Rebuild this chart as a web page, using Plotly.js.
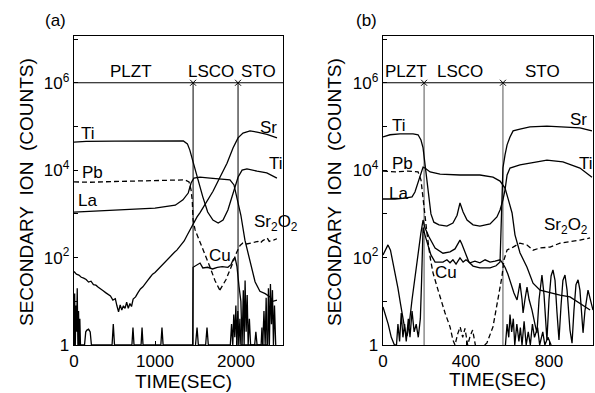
<!DOCTYPE html>
<html>
<head>
<meta charset="utf-8">
<script src="https://cdn.plot.ly/plotly-3.0.1.min.js"></script>
<style>html,body{margin:0;padding:0;background:#fff;}#chart{width:595px;height:393px;}</style>
</head>
<body>
<div id="chart"></div>
<script>
// ---------- Panel (a) data: time (s) and secondary ion counts ----------
var aTiT = [0, 150, 500, 900, 1200, 1350, 1400, 1430, 1480, 1530, 1590, 1650, 1715, 1780, 1840, 1900, 1965, 2025, 2075, 2135, 2260, 2380, 2505];
var aTiV = [44000, 45500, 46000, 47000, 47500, 46500, 40000, 28800, 13200, 6000, 2450, 1100, 720, 620, 720, 1230, 3000, 6900, 10000, 10700, 9500, 8700, 6600];

var aPbT = [0, 200, 500, 800, 1100, 1370, 1420, 1445, 1460, 1470, 1495, 1520, 1555, 1620, 1680, 1740, 1800];
var aPbV = [5400, 5300, 5500, 5600, 5700, 6000, 5400, 3550, 2000, 720, 430, 330, 250, 126, 60, 30, 18];

var aLaT = [0, 300, 700, 1000, 1250, 1345, 1410, 1445, 1480, 1555, 1680, 1800, 1925, 1975, 2010, 2060, 2110, 2175, 2235, 2295, 2360, 2420, 2455, 2505];
var aLaV = [1100, 1175, 1260, 1350, 1580, 2100, 3000, 5100, 6600, 6900, 6600, 6300, 6000, 4600, 2450, 930, 250, 80, 28, 17, 15, 12.6, 10, 10.7];

var aSrT = [0, 30, 60, 90, 120, 150, 180, 210, 240, 270, 300, 330, 360, 390, 420, 450, 480, 510, 530, 550, 570, 590, 610, 630, 650, 670, 690, 710, 730, 760, 790, 820, 850, 880, 910, 940, 970, 1000, 1030, 1060, 1090, 1120, 1150, 1180, 1210, 1240, 1270, 1300, 1330, 1360, 1395, 1432, 1470, 1519, 1556, 1617, 1716, 1802, 1889, 1963, 2025, 2086, 2173, 2260, 2383, 2506];
var aSrV = [47.9, 41.7, 39.8, 35.5, 33.9, 31.6, 27.5, 28.8, 24.0, 23.4, 20.9, 19.5, 17.4, 15.8, 14.5, 13.2, 10.7, 11.5, 7.9, 5.75, 8.3, 6.3, 7.9, 6.9, 9.5, 6.9, 8.9, 7.6, 11.2, 12.6, 15.8, 19.1, 21.4, 26.3, 30.2, 35.5, 41.7, 45.7, 52.5, 60.3, 69.2, 75.9, 87.1, 100, 115, 132, 148, 174, 200, 240, 320, 430, 600, 851, 1070, 1660, 3300, 6918, 14450, 32360, 54950, 70790, 79430, 74130, 66070, 54950];

var aSr2O2T = [1800, 1875, 1950, 2010, 2050, 2085, 2130, 2170, 2230, 2270, 2300, 2330, 2360, 2385, 2410, 2440, 2470, 2505];
var aSr2O2V = [18, 31, 68, 135, 190, 215, 205, 210, 225, 235, 215, 245, 265, 280, 235, 240, 255, 270];

var aCuT = [0, 8, 16, 24, 32, 40, 48, 56, 64, 72, 80, 130, 145, 160, 180, 200, 215, 470, 485, 500, 715, 728, 741, 828, 840, 852, 1072, 1086, 1100, 1465, 1470, 1500, 1556, 1590, 1650, 1710, 1770, 1830, 1900, 1940, 1965, 1988, 2012, 2037, 2060, 2075, 2090, 2100, 2112, 2125, 2138, 2150, 2165, 2180, 2310, 2320, 2330, 2390, 2400, 2412, 2425, 2438, 2450, 2462, 2475, 2490];
var aCuV = [1, 15, 1, 8, 2, 20, 1, 6, 1, 4, 1, 1, 2, 2.2, 2.3, 2, 1, 1, 3, 1, 1, 2.5, 1, 1, 2.5, 1, 1, 2.5, 1, 1, 60, 65, 75, 58, 60, 55, 60, 62, 60, 70, 90, 100, 62, 22, 10, 1, 18, 1, 30, 2, 14, 1, 4, 1, 1, 2.5, 1, 1, 20, 1, 25, 3, 18, 1, 8, 1];

var aBgT = [1500, 1519, 1535, 1625, 1642, 1658, 1930, 1945, 1960, 1972, 1985, 1998, 2010, 2022, 2035, 2048, 2060, 2230, 2245, 2260, 2330, 2345, 2360, 2372, 2384];
var aBgV = [1, 2.5, 1, 1, 2.5, 1, 1, 3, 1, 5, 1.5, 8, 1, 6, 1, 4, 1, 1, 2, 1, 1, 6, 1, 12, 1];

var aBounds = [1470, 2025];

// ---------- Panel (b) data ----------
var bTiT = [0, 34, 82, 145, 169, 183, 193, 202, 212, 222, 231, 245, 270, 308, 337, 357, 371, 386, 405, 434, 467, 516, 549, 564, 578, 588, 598, 612, 660, 708, 790, 867, 949, 1007];
var bTiV = [57500, 64600, 67600, 67600, 64600, 49000, 32400, 14450, 6030, 2090, 1000, 646, 562, 525, 617, 933, 1780, 1100, 724, 562, 525, 589, 851, 1230, 2090, 3550, 7760, 11200, 13200, 14450, 17000, 15500, 11200, 6900];

var bPbT = [0, 60, 120, 169, 183, 193, 202, 212, 227, 241, 265, 284, 299, 323, 337, 347, 360, 372, 384, 395, 408, 420, 432, 445];
var bPbV = [9550, 9120, 9550, 9120, 6030, 2090, 933, 363, 102, 44.7, 18.2, 9.1, 5.4, 2.6, 1.3, 1, 1.8, 2.6, 1.5, 2.4, 1, 1.6, 2.2, 1];

var bLaT = [0, 58, 106, 140, 154, 169, 183, 193, 202, 227, 275, 371, 467, 530, 564, 588, 602, 622, 636, 660, 694, 723, 757, 805, 853, 901, 949, 998];
var bLaV = [2190, 2190, 2290, 2455, 3160, 5370, 9120, 11750, 11200, 9120, 8130, 7760, 7760, 6920, 5620, 3890, 2290, 1050, 331, 129, 60, 26, 18, 15.5, 13.8, 12.6, 9.1, 6.3];

var bSrT = [0, 12, 24, 36, 48, 60, 72, 84, 96, 106, 116, 126, 140, 150, 162, 172, 182, 193, 202, 222, 251, 289, 323, 347, 362, 371, 380, 395, 414, 434, 467, 516, 545, 564, 568, 573, 578, 588, 598, 612, 627, 660, 708, 790, 867, 949, 1007];
var bSrV = [115, 148, 195, 148, 79, 40, 20, 9, 4.2, 2.2, 1.6, 2.9, 11, 26, 79, 166, 347, 724, 479, 295, 166, 126, 135, 158, 204, 251, 204, 135, 79, 64, 58, 58, 65, 79, 427, 3548, 11220, 22390, 38020, 57540, 79430, 87100, 97720, 102300, 97720, 93330, 79430];

var bCuT = [0, 12, 25, 40, 55, 65, 72, 80, 88, 96, 104, 112, 122, 130, 140, 150, 160, 170, 180, 186, 190, 193, 202, 217, 231, 251, 289, 308, 323, 337, 352, 371, 386, 400, 419, 443, 467, 492, 516, 540, 564, 573, 588, 602, 617, 631, 646, 660, 670, 675, 684, 694, 704, 718, 733, 742, 752, 766, 776, 790, 800, 810, 819, 829, 838, 848, 858, 867, 877, 887, 901, 911, 920, 930, 940, 949, 964, 973, 988, 998, 1012];
var bCuV = [7.4, 5, 3, 1.5, 1, 1, 3, 1.2, 5.4, 1.5, 3, 1.2, 4, 1.5, 6, 2, 3, 1.5, 4, 30, 200, 490, 331, 195, 115, 79, 79, 89, 76, 89, 71, 98, 79, 89, 76, 83, 76, 89, 79, 83, 89, 79, 60, 41.7, 25, 15.5, 10.7, 26, 11, 5.4, 11, 21, 11, 6.3, 2.9, 1.9, 11, 40, 14, 1.3, 11, 38, 52, 30, 6, 1.3, 8, 30, 40, 18, 2.2, 1.1, 6, 24, 31, 18, 1.9, 6, 18, 11, 6.3];

var bSr2O2T = [490, 501, 530, 554, 573, 583, 598, 627, 660, 694, 723, 757, 805, 853, 901, 949, 998];
var bSr2O2V = [1, 1.12, 2.6, 10.7, 36, 89, 149, 174, 214, 194, 148, 166, 174, 214, 229, 251, 282];

var bBgT = [590, 598, 606, 612, 620, 628, 635, 645, 655, 662, 670, 680, 690, 700, 710, 720, 730, 745, 755, 770, 780, 795, 810];
var bBgV = [1, 3, 1.5, 5, 2, 4, 1, 3, 1.2, 2.5, 1, 3.5, 1, 2, 1, 3, 1.5, 2.5, 1, 2, 1, 1.5, 1];

var bBounds = [198, 578];

// axis ranges and tick labels
var aXRange = [0, 2580];
var bXRange = [0, 1012];
var layerLevel = 1e6;
var baseLevel = 1;
var aXTicks = [0, 1000, 2000];
var bXTicks = [0, 400, 800];
var yTickVals = [1, 100, 1e4, 1e6];
var yTickText = ['1', '10<sup>2</sup>', '10<sup>4</sup>', '10<sup>6</sup>'];
var yMinorVals = [10, 1e3, 1e5, 1e7];

var FONT = 'Liberation Sans, Arial, Helvetica, sans-serif';
var DASH = '5px,3px';

function ln(x, y, xa, ya, dash, color, width) {
  return {x: x, y: y, xaxis: xa, yaxis: ya, type: 'scatter', mode: 'lines',
    line: {color: color || '#000', width: width || 1.3, dash: dash || 'solid'},
    hoverinfo: 'skip', showlegend: false};
}

var traces = [];
// panel a
traces.push(ln([aXRange[0], aXRange[1]], [layerLevel, layerLevel], 'x', 'y', null, '#000', 1.2));
aBounds.forEach(function (b) { traces.push(ln([b, b], [baseLevel, layerLevel], 'x', 'y', null, '#000', 1)); });
traces.push({x: aBounds, y: [layerLevel, layerLevel], xaxis: 'x', yaxis: 'y', type: 'scatter', mode: 'markers',
  marker: {symbol: 'x-thin', size: 6, line: {color: '#000', width: 1}}, hoverinfo: 'skip', showlegend: false});
traces.push(ln(aTiT, aTiV, 'x', 'y'));
traces.push(ln(aPbT, aPbV, 'x', 'y', DASH));
traces.push(ln(aLaT, aLaV, 'x', 'y'));
traces.push(ln(aSrT, aSrV, 'x', 'y'));
traces.push(ln(aSr2O2T, aSr2O2V, 'x', 'y', DASH));
traces.push(ln(aCuT, aCuV, 'x', 'y'));
traces.push(ln(aBgT, aBgV, 'x', 'y'));
// panel b
traces.push(ln([bXRange[0], bXRange[1]], [layerLevel, layerLevel], 'x2', 'y2', null, '#000', 1.2));
bBounds.forEach(function (b) { traces.push(ln([b, b], [baseLevel, layerLevel], 'x2', 'y2', null, '#555', 1)); });
traces.push({x: bBounds, y: [layerLevel, layerLevel], xaxis: 'x2', yaxis: 'y2', type: 'scatter', mode: 'markers',
  marker: {symbol: 'x-thin', size: 6, line: {color: '#000', width: 1}}, hoverinfo: 'skip', showlegend: false});
traces.push(ln(bTiT, bTiV, 'x2', 'y2'));
traces.push(ln(bPbT, bPbV, 'x2', 'y2', DASH));
traces.push(ln(bLaT, bLaV, 'x2', 'y2'));
traces.push(ln(bSrT, bSrV, 'x2', 'y2'));
traces.push(ln(bSr2O2T, bSr2O2V, 'x2', 'y2', DASH));
traces.push(ln(bCuT, bCuV, 'x2', 'y2'));
traces.push(ln(bBgT, bBgV, 'x2', 'y2'));

var W = 595, H = 393;
function txt(text, px, py, size, angle) {
  return {text: text, x: px / W, y: 1 - py / H, xref: 'paper', yref: 'paper', showarrow: false,
    xanchor: 'center', yanchor: 'middle', textangle: angle || 0,
    font: {family: FONT, size: size || 17, color: '#000'}};
}
var sp = '\u00a0\u00a0';
var annotations = [
  txt('(a)', 55, 20, 17), txt('(b)', 366, 20, 17),
  txt('PLZT', 131, 71), txt('LSCO', 211, 71), txt('STO', 258, 71),
  txt('PLZT', 406, 71), txt('LSCO', 460, 71), txt('STO', 542, 71),
  txt('Ti', 88, 133), txt('Pb', 92, 172), txt('La', 87, 201),
  txt('Sr', 268, 127), txt('Ti', 276, 163), txt('Sr<sub>2</sub>O<sub>2</sub>', 276, 223), txt('Cu', 220, 255),
  txt('Ti', 399, 125), txt('Pb', 402, 164), txt('La', 398, 193),
  txt('Sr', 578, 119), txt('Ti', 586, 163), txt('Sr<sub>2</sub>O<sub>2</sub>', 566, 226), txt('Cu', 446, 272),
  txt('TIME(SEC)', 183, 381, 19), txt('TIME(SEC)', 497, 379, 19),
  txt('SECONDARY' + sp + 'ION' + sp + '(COUNTS)', 27, 192, 19, -90),
  txt('SECONDARY' + sp + 'ION' + sp + '(COUNTS)', 335, 192, 19, -90)
];

function xaxisDef(domain, range, ticks, anchor) {
  return {domain: domain, range: range, anchor: anchor, showline: true, mirror: true, linecolor: '#000', linewidth: 1.3,
    ticks: 'inside', ticklen: 4, tickcolor: '#000', tickmode: 'array', tickvals: ticks, ticktext: ticks.map(String),
    tickfont: {family: FONT, size: 17, color: '#000'}, showgrid: false, zeroline: false, fixedrange: true};
}
function yaxisDef(anchor) {
  return {domain: [48 / H, 357 / H], type: 'log', range: [0, 7.07], anchor: anchor, showline: true, mirror: true,
    linecolor: '#000', linewidth: 1.3, ticks: 'inside', ticklen: 4, tickcolor: '#000', tickmode: 'array',
    tickvals: yTickVals, ticktext: yTickText, tickfont: {family: FONT, size: 17, color: '#000'},
    minor: {tickmode: 'array', tickvals: yMinorVals, ticks: 'inside', ticklen: 4, tickcolor: '#000', showgrid: false},
    showgrid: false, zeroline: false, fixedrange: true};
}

var layout = {
  width: W, height: H, margin: {l: 0, r: 0, t: 0, b: 0},
  paper_bgcolor: '#fff', plot_bgcolor: '#fff', showlegend: false,
  font: {family: FONT, color: '#000'},
  xaxis: xaxisDef([74 / W, 283 / W], aXRange, aXTicks, 'y'),
  yaxis: yaxisDef('x'),
  xaxis2: xaxisDef([383 / W, 593 / W], bXRange, bXTicks, 'y2'),
  yaxis2: yaxisDef('x2'),
  annotations: annotations
};

Plotly.newPlot('chart', traces, layout, {staticPlot: true, displayModeBar: false});
</script>
</body>
</html>
